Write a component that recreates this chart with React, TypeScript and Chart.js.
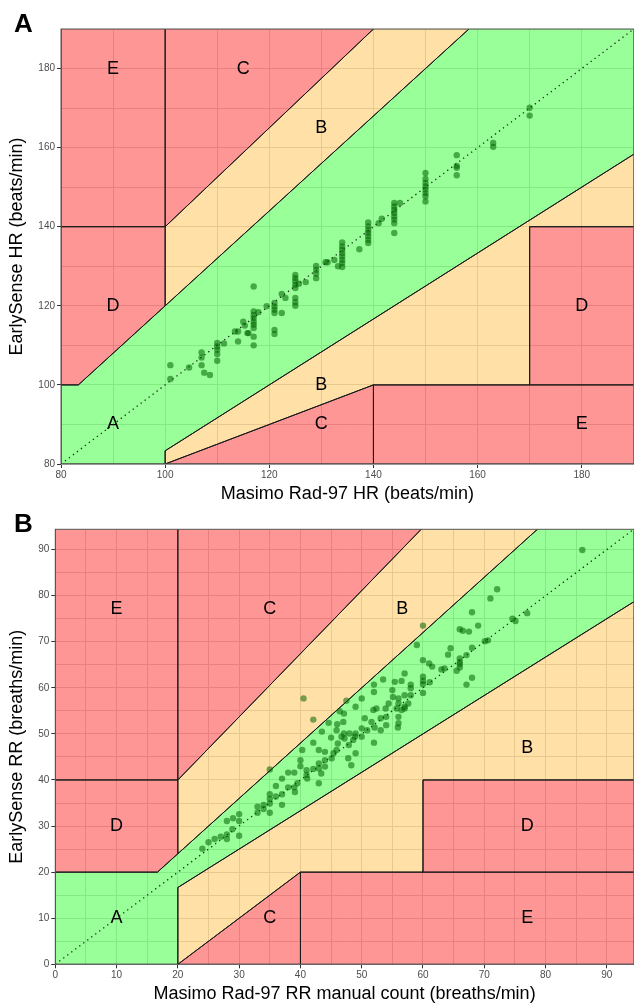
import React, { useEffect, useRef } from "react";
import { Chart, registerables } from "chart.js";

Chart.register(...registerables);

const FONT = '"Liberation Sans", Arial, Helvetica, sans-serif';

// ---------- Panel A: heart rate (beats/min) ----------
const hrMasimo = [
  101, 101, 104.6, 107, 107, 107, 107.5, 108.6, 110, 110, 110, 110, 110, 111.3, 114, 113.4, 114,
  115, 115.3, 115.8, 116, 117, 117, 117, 117, 117, 117, 117, 117, 117, 117.9, 119.5,
  121, 121, 121, 121, 121, 121, 122.4, 122.4, 123.1,
  125, 125, 125, 125, 125, 125, 125, 125, 125.7, 127,
  129, 129, 129, 129, 130.8, 131.2, 132.5,
  134, 134, 134, 134, 134, 134, 134, 134, 133.2, 137.3,
  139, 139, 139, 139, 139, 139, 139, 141, 141.6,
  144, 144, 144, 144, 144, 144, 144, 144, 145.1,
  150, 150, 150, 150, 150, 150, 150, 150,
  156, 156, 156, 156, 163, 163, 170, 170,
];
const hrEarlySense = [
  105, 101.5, 104.4, 108.2, 106.9, 105, 103.1, 102.5, 110.6, 109.7, 108.9, 107.8, 106.1, 110.5, 111, 113.5, 113.5,
  116, 115, 113.1, 113.1, 124.9, 118.6, 117.7, 116.9, 116, 115.2, 114.4, 112.2, 110, 118.4, 119.9,
  120.7, 119.8, 119, 118.2, 113.9, 112.9, 118.2, 123, 122,
  127.8, 127, 126.2, 125.3, 124.5, 122, 120.9, 120, 125.6, 126,
  130.1, 129.1, 128.1, 127, 131, 131, 131.6,
  136, 135, 134.2, 133.3, 132.5, 131.6, 130.8, 129.8, 130, 134.3,
  141.1, 140.1, 139.2, 138.4, 137.6, 136.7, 135.9, 140.9, 142,
  146, 145.1, 144.3, 143.5, 142.6, 141.8, 140.9, 138.4, 146,
  153.6, 152.1, 151.1, 150.2, 149.4, 148.5, 147.7, 146.4,
  158.1, 155.4, 154.9, 153, 161.2, 160.2, 170.1, 168.1,
];

// ---------- Panel B: respiratory rate (breaths/min) ----------
const rrManual = [
  24, 25, 26, 27, 28, 28, 28.9, 28, 29, 30, 30, 30,
  33, 33, 34, 34, 35, 35, 35, 35, 36, 36, 37, 37, 37,
  38, 38, 39, 39, 39.1, 39.5, 40, 40, 40.3, 41, 41, 41.1,
  42.1, 42.1, 43, 43, 43, 43, 43.4, 43.5, 44, 44, 44, 44.6,
  45, 45.1, 45.4, 45.9, 45.9, 46, 46.1, 46.4, 46.7, 47, 47.1, 47.1, 47.2,
  47.8, 47.9, 48, 48.3, 48.6, 48.9, 49, 49, 49,
  50, 50, 50, 50.5, 50.9, 51.6, 51.9, 52, 52, 52, 52.1, 52.4,
  53.1, 53.1, 53.5, 53.9, 54, 54, 54.4, 55, 55.1, 55.4, 55.7, 55.9,
  40.5, 42.1, 35, 47.5,
  86, 72.1, 71, 68, 69, 66, 66.5, 67.5, 60, 59, 77, 74.6, 75.1,
  70.1, 70.6, 68, 64.5, 64.1, 67.1, 66, 66, 66, 66, 65.5, 63, 63.5,
  60, 61, 61.5, 68, 67.1, 60, 60, 60, 60, 61.1, 57, 56.5, 58, 58,
  57, 58, 56, 56, 57.6, 57, 56.5, 57, 56, 56,
];
const rrEarlySense = [
  25.1, 26.5, 27.2, 27.7, 28.2, 27.2, 29.3, 31.1, 31.7, 32.6, 31.1, 27.9,
  34.2, 32.9, 34.6, 33.7, 36.9, 35.9, 34.9, 32.9, 38.7, 36.4, 36.9, 34.6, 40.3,
  41.6, 38.4, 41.6, 38.4, 37.4, 39.3, 44.3, 43, 46.5, 42.1, 41.1, 40.3,
  42.4, 48.1, 46.5, 43.6, 42.5, 39.3, 41.4, 50.5, 46.1, 44.3, 42.9, 52.4,
  49.2, 44.7, 45.8, 46.5, 50.8, 52.1, 47.9, 54.9, 49.4, 52.6, 54.4, 50.1, 49,
  44.7, 47.6, 50.1, 43.2, 48.7, 49.4, 45.8, 50.1, 55.9,
  51.2, 57.7, 49.4, 53.4, 50.8, 52.6, 55.2, 48.1, 60.7, 59.1, 51.4, 55.5,
  53.4, 50.8, 61.8, 55.5, 53.7, 51.9, 56.6, 59.5, 58, 61.3, 55.5, 51.4,
  57.7, 53.1, 42.3, 57.2,
  89.9, 81.4, 79.4, 76.4, 73.5, 72.7, 72.4, 72.2, 73.5, 69.3, 76.2, 75, 74.5,
  70.1, 70.3, 68.7, 68.6, 67.2, 67.1, 66.4, 65.6, 65.1, 64.4, 63.7, 64, 64.2,
  66, 65.3, 64.6, 62.2, 60.7, 62.4, 61.5, 60.8, 58.9, 61.2, 63.1, 61.5, 60.7, 59.9,
  58.4, 58.4, 57.7, 56.6, 56.6, 55.9, 55.2, 55.5, 53.7, 52.3,
];

// axis ranges and tick steps
const hrRange = [80, 190];
const hrGridStep = 10;
const hrLabelStep = 20;
const rrRange = [0, 94.4];
const rrGridStep = 5;
const rrLabelStep = 10;

// error-grid zones (vertices in data units)
const hrZones = [
  { zone: "A", pts: [[80, 80], [80, 100], [83.333, 100], [300, 360], [300, 250], [100, 83.333], [100, 80]] },
  { zone: "B", pts: [[100, 120], [100, 140], [300, 390], [300, 360]] },
  { zone: "C", pts: [[100, 140], [100, 400], [300, 400], [300, 390]] },
  { zone: "E", pts: [[80, 140], [100, 140], [100, 400], [80, 400]] },
  { zone: "D", pts: [[80, 100], [83.333, 100], [100, 120], [100, 140], [80, 140]] },
  { zone: "B", pts: [[100, 80], [100, 83.333], [300, 250], [300, 140], [170, 140], [170, 100], [140, 100]] },
  { zone: "C", pts: [[100, 80], [140, 100], [140, 80]] },
  { zone: "E", pts: [[140, 80], [300, 80], [300, 100], [140, 100]] },
  { zone: "D", pts: [[170, 100], [300, 100], [300, 140], [170, 140]] },
];
const hrZoneLabels = [
  { t: "E", x: 90, y: 180 }, { t: "C", x: 115, y: 180 }, { t: "B", x: 130, y: 165 },
  { t: "D", x: 90, y: 120 }, { t: "D", x: 180, y: 120 }, { t: "A", x: 90, y: 90 },
  { t: "B", x: 130, y: 100 }, { t: "C", x: 130, y: 90 }, { t: "E", x: 180, y: 90 },
];

const rrZones = [
  { zone: "A", pts: [[0, 0], [0, 20], [16.667, 20], [200, 240], [200, 166.667], [20, 16.667], [20, 0]] },
  { zone: "B", pts: [[20, 24], [20, 40], [200, 286.6], [200, 240]] },
  { zone: "C", pts: [[20, 40], [20, 300], [200, 300], [200, 286.6]] },
  { zone: "E", pts: [[0, 40], [20, 40], [20, 300], [0, 300]] },
  { zone: "D", pts: [[0, 20], [16.667, 20], [20, 24], [20, 40], [0, 40]] },
  { zone: "B", pts: [[20, 0], [20, 16.667], [200, 166.667], [200, 40], [60, 40], [60, 20], [40, 20]] },
  { zone: "C", pts: [[20, 0], [40, 20], [40, 0]] },
  { zone: "E", pts: [[40, 0], [200, 0], [200, 20], [40, 20]] },
  { zone: "D", pts: [[60, 20], [200, 20], [200, 40], [60, 40]] },
];
const rrZoneLabels = [
  { t: "E", x: 10, y: 77 }, { t: "C", x: 35, y: 77 }, { t: "B", x: 56.6, y: 77 },
  { t: "D", x: 10, y: 30 }, { t: "D", x: 77, y: 30 }, { t: "B", x: 77, y: 47 },
  { t: "A", x: 10, y: 10 }, { t: "C", x: 35, y: 10 }, { t: "E", x: 77, y: 10 },
];

const ZONE_FILL: Record<string, string> = {
  A: "rgba(0,255,0,0.4)",
  B: "rgba(255,165,0,0.35)",
  C: "rgba(255,0,0,0.41)",
  D: "rgba(255,0,0,0.41)",
  E: "rgba(255,0,0,0.41)",
};

function makeOverlay(zones: any[], labels: any[], panel: string, panelY: number) {
  return {
    id: "overlay" + panel,
    beforeDatasetsDraw(chart: any) {
      const { ctx, chartArea: a, scales } = chart;
      const xs = scales.x;
      const ys = scales.y;
      ctx.save();
      ctx.beginPath();
      ctx.rect(a.left, a.top, a.right - a.left, a.bottom - a.top);
      ctx.clip();
      const path = (pts: number[][]) => {
        ctx.beginPath();
        pts.forEach(([vx, vy], i) => {
          const px = xs.getPixelForValue(vx);
          const py = ys.getPixelForValue(vy);
          if (i) ctx.lineTo(px, py);
          else ctx.moveTo(px, py);
        });
        ctx.closePath();
      };
      zones.forEach((z) => {
        path(z.pts);
        ctx.fillStyle = ZONE_FILL[z.zone];
        ctx.fill();
      });
      ctx.strokeStyle = "#1a1a1a";
      ctx.lineWidth = 1;
      zones.forEach((z) => {
        path(z.pts);
        ctx.stroke();
      });
      ctx.fillStyle = "#000";
      ctx.font = `18px ${FONT}`;
      ctx.textAlign = "center";
      ctx.textBaseline = "middle";
      labels.forEach((l) => ctx.fillText(l.t, xs.getPixelForValue(l.x), ys.getPixelForValue(l.y)));
      ctx.restore();
    },
    afterDraw(chart: any) {
      const { ctx, chartArea: a } = chart;
      ctx.save();
      ctx.strokeStyle = "#555";
      ctx.lineWidth = 1;
      ctx.strokeRect(a.left, a.top, a.right - a.left, a.bottom - a.top);
      ctx.fillStyle = "#000";
      ctx.font = `bold 26px ${FONT}`;
      ctx.textAlign = "left";
      ctx.textBaseline = "alphabetic";
      ctx.fillText(panel, 14, panelY);
      ctx.restore();
    },
  };
}

const isMultiple = (v: number, step: number) => Math.abs(v / step - Math.round(v / step)) < 1e-6;

function makeScale(range: number[], gridStep: number, labelStep: number, title: string, isX: boolean, size: number, titlePad: number) {
  return {
    type: "linear",
    min: range[0],
    max: range[1],
    afterFit: (s: any) => {
      if (isX) s.height = size;
      else s.width = size;
      s.paddingLeft = 0;
      s.paddingRight = 0;
      s.paddingTop = 0;
      s.paddingBottom = 0;
    },
    ticks: {
      stepSize: gridStep,
      includeBounds: false,
      autoSkip: false,
      maxRotation: 0,
      minRotation: 0,
      padding: isX ? 1 : 2,
      color: "#4d4d4d",
      font: { family: FONT, size: 10 },
      callback: (v: number) => (isMultiple(v, labelStep) ? String(v) : ""),
    },
    grid: {
      color: "#dadada",
      lineWidth: 1,
      drawTicks: true,
      tickLength: 4,
      tickWidth: 1,
      tickColor: (c: any) => (c.tick && isMultiple(c.tick.value, labelStep) ? "#333" : "rgba(0,0,0,0)"),
    },
    border: { display: false },
    title: {
      display: true,
      text: title,
      color: "#000",
      font: { family: FONT, size: 18 },
      padding: isX ? { top: 0, bottom: titlePad } : { top: titlePad, bottom: 0 },
    },
  };
}

type PanelProps = {
  xv: number[];
  yv: number[];
  range: number[];
  gridStep: number;
  labelStep: number;
  xTitle: string;
  yTitle: string;
  zones: any[];
  labels: any[];
  panel: string;
  top: number;
  height: number;
  padTop: number;
  yAxisWidth: number;
  xAxisHeight: number;
  panelY: number;
  xTitlePad: number;
  yTitlePad: number;
};

// Chart.js keeps ~3.2px free on the right for point overflow, so the canvas
// is a little wider than the window and the wrapper clips it.
const CANVAS_W = 637;

function Panel(p: PanelProps) {
  const ref = useRef<HTMLCanvasElement | null>(null);
  useEffect(() => {
    if (!ref.current) return;
    const points = p.xv.map((x, i) => ({ x, y: p.yv[i] }));
    const chart = new Chart(ref.current, {
      type: "scatter",
      data: {
        datasets: [
          {
            data: points,
            backgroundColor: "rgba(0,100,0,0.55)",
            borderWidth: 0,
            pointRadius: 3.2,
            pointHoverRadius: 3.2,
          } as any,
          {
            type: "line",
            data: [
              { x: p.range[0], y: p.range[0] },
              { x: p.range[1], y: p.range[1] },
            ],
            showLine: true,
            borderColor: "#222",
            borderWidth: 1.3,
            borderDash: [1.3, 3.7],
            pointRadius: 0,
            fill: false,
          } as any,
        ],
      },
      options: {
        responsive: false,
        animation: false,
        events: [],
        layout: { padding: { top: p.padTop, left: 0, right: 0, bottom: 0 } },
        plugins: { legend: { display: false }, tooltip: { enabled: false } },
        scales: {
          x: makeScale(p.range, p.gridStep, p.labelStep, p.xTitle, true, p.xAxisHeight, p.xTitlePad) as any,
          y: makeScale(p.range, p.gridStep, p.labelStep, p.yTitle, false, p.yAxisWidth, p.yTitlePad) as any,
        },
      },
      plugins: [makeOverlay(p.zones, p.labels, p.panel, p.panelY)],
    });
    return () => chart.destroy();
  }, []);
  return (
    <canvas
      ref={ref}
      width={CANVAS_W}
      height={p.height}
      style={{ position: "absolute", left: 0, top: p.top, width: CANVAS_W, height: p.height, display: "block" }}
    />
  );
}

export default function App() {
  return (
    <div style={{ position: "absolute", left: 0, top: 0, width: 634, height: 1007, background: "#fff", overflow: "hidden" }}>
      <Panel
        xv={hrMasimo}
        yv={hrEarlySense}
        range={hrRange}
        gridStep={hrGridStep}
        labelStep={hrLabelStep}
        xTitle="Masimo Rad-97 HR (beats/min)"
        yTitle="EarlySense HR (beats/min)"
        zones={hrZones}
        labels={hrZoneLabels}
        panel="A"
        top={0}
        height={505}
        padTop={29}
        yAxisWidth={61}
        xAxisHeight={41}
        panelY={32}
        xTitlePad={0}
        yTitlePad={6}
      />
      <Panel
        xv={rrManual}
        yv={rrEarlySense}
        range={rrRange}
        gridStep={rrGridStep}
        labelStep={rrLabelStep}
        xTitle="Masimo Rad-97 RR manual count (breaths/min)"
        yTitle="EarlySense RR (breaths/min)"
        zones={rrZones}
        labels={rrZoneLabels}
        panel="B"
        top={505}
        height={502}
        padTop={24.3}
        yAxisWidth={55.3}
        xAxisHeight={42.7}
        panelY={27}
        xTitlePad={2}
        yTitlePad={6}
      />
    </div>
  );
}
